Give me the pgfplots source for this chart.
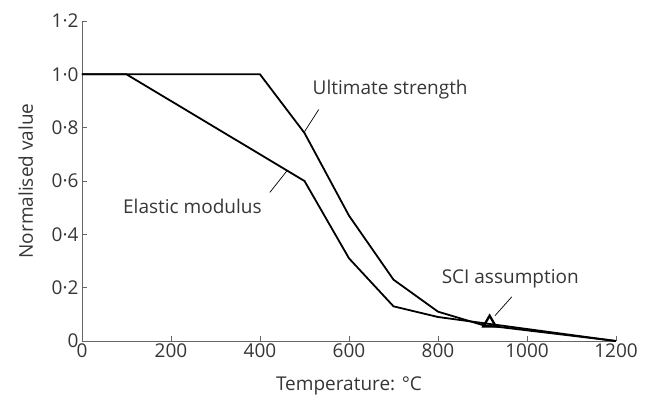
\documentclass[border=0pt]{standalone}
\usepackage{pgfplots}
\pgfplotsset{compat=1.18}
\usepackage{fontspec}
\setmainfont{Open Sans}
\definecolor{txt}{HTML}{363636}
\definecolor{axc}{HTML}{666666}
\newcommand{\fs}{\fontsize{19}{22}\selectfont}
\begin{document}
\begin{tikzpicture}
\begin{axis}[
  scale only axis, width=534pt, height=320pt,
  xmin=0, xmax=1200, ymin=0, ymax=1.2,
  axis lines=left, axis line style={axc, line width=0.9pt, -},
  xtick={0,200,400,600,800,1000,1200},
  xticklabels={0,200,400,600,800,1000,1200},
  ytick={0,0.2,0.4,0.6,0.8,1.0,1.2},
  yticklabels={0,0·2,0·4,0·6,0·8,1·0,1·2},
  tick style={axc, line width=0.8pt}, major tick length=5pt, tick align=inside,
  ticklabel style={font=\fs, text=txt},
  label style={font=\fs, text=txt},
  xticklabel style={yshift=1pt},
  xlabel={Temperature: °C}, ylabel={Normalised value},
  xlabel style={at={(axis description cs:0.5,-0.156)}, anchor=base},
  ylabel style={at={(axis description cs:-0.092,0.5)}, anchor=base},
  clip=false,
]
\addplot[black, line width=1.8pt] coordinates {(0,1) (400,1) (500,0.78) (600,0.47) (700,0.23) (800,0.11) (900,0.06) (1000,0.04) (1100,0.02) (1200,0)};
\addplot[black, line width=1.8pt] coordinates {(0,1) (100,1) (500,0.6) (600,0.31) (700,0.13) (800,0.09) (900,0.0675) (1000,0.045) (1100,0.0225) (1200,0)};
\addplot[only marks, mark=triangle, mark size=7.2pt, mark options={line width=2.3pt, fill=white, line join=miter}] coordinates {(916,0.068)};
\draw[black, line width=0.7pt] (axis cs:500,0.785) -- (axis cs:532,0.868);
\draw[black, line width=0.7pt] (axis cs:461,0.639) -- (axis cs:422,0.557);
\draw[black, line width=0.7pt] (axis cs:928,0.095) -- (axis cs:966,0.166);
\node[anchor=base west, inner sep=0pt, text=txt, font=\fs] at (axis cs:518,0.924) {Ultimate strength};
\node[anchor=base west, inner sep=0pt, text=txt, font=\fs] at (axis cs:92,0.478) {Elastic modulus};
\node[anchor=base west, inner sep=0pt, text=txt, font=\fs] at (axis cs:808,0.216) {SCI assumption};
\end{axis}
\path[use as bounding box] (current axis.origin) ++(-82pt,-53pt) rectangle ++(650pt,394pt);
\end{tikzpicture}
\end{document}
